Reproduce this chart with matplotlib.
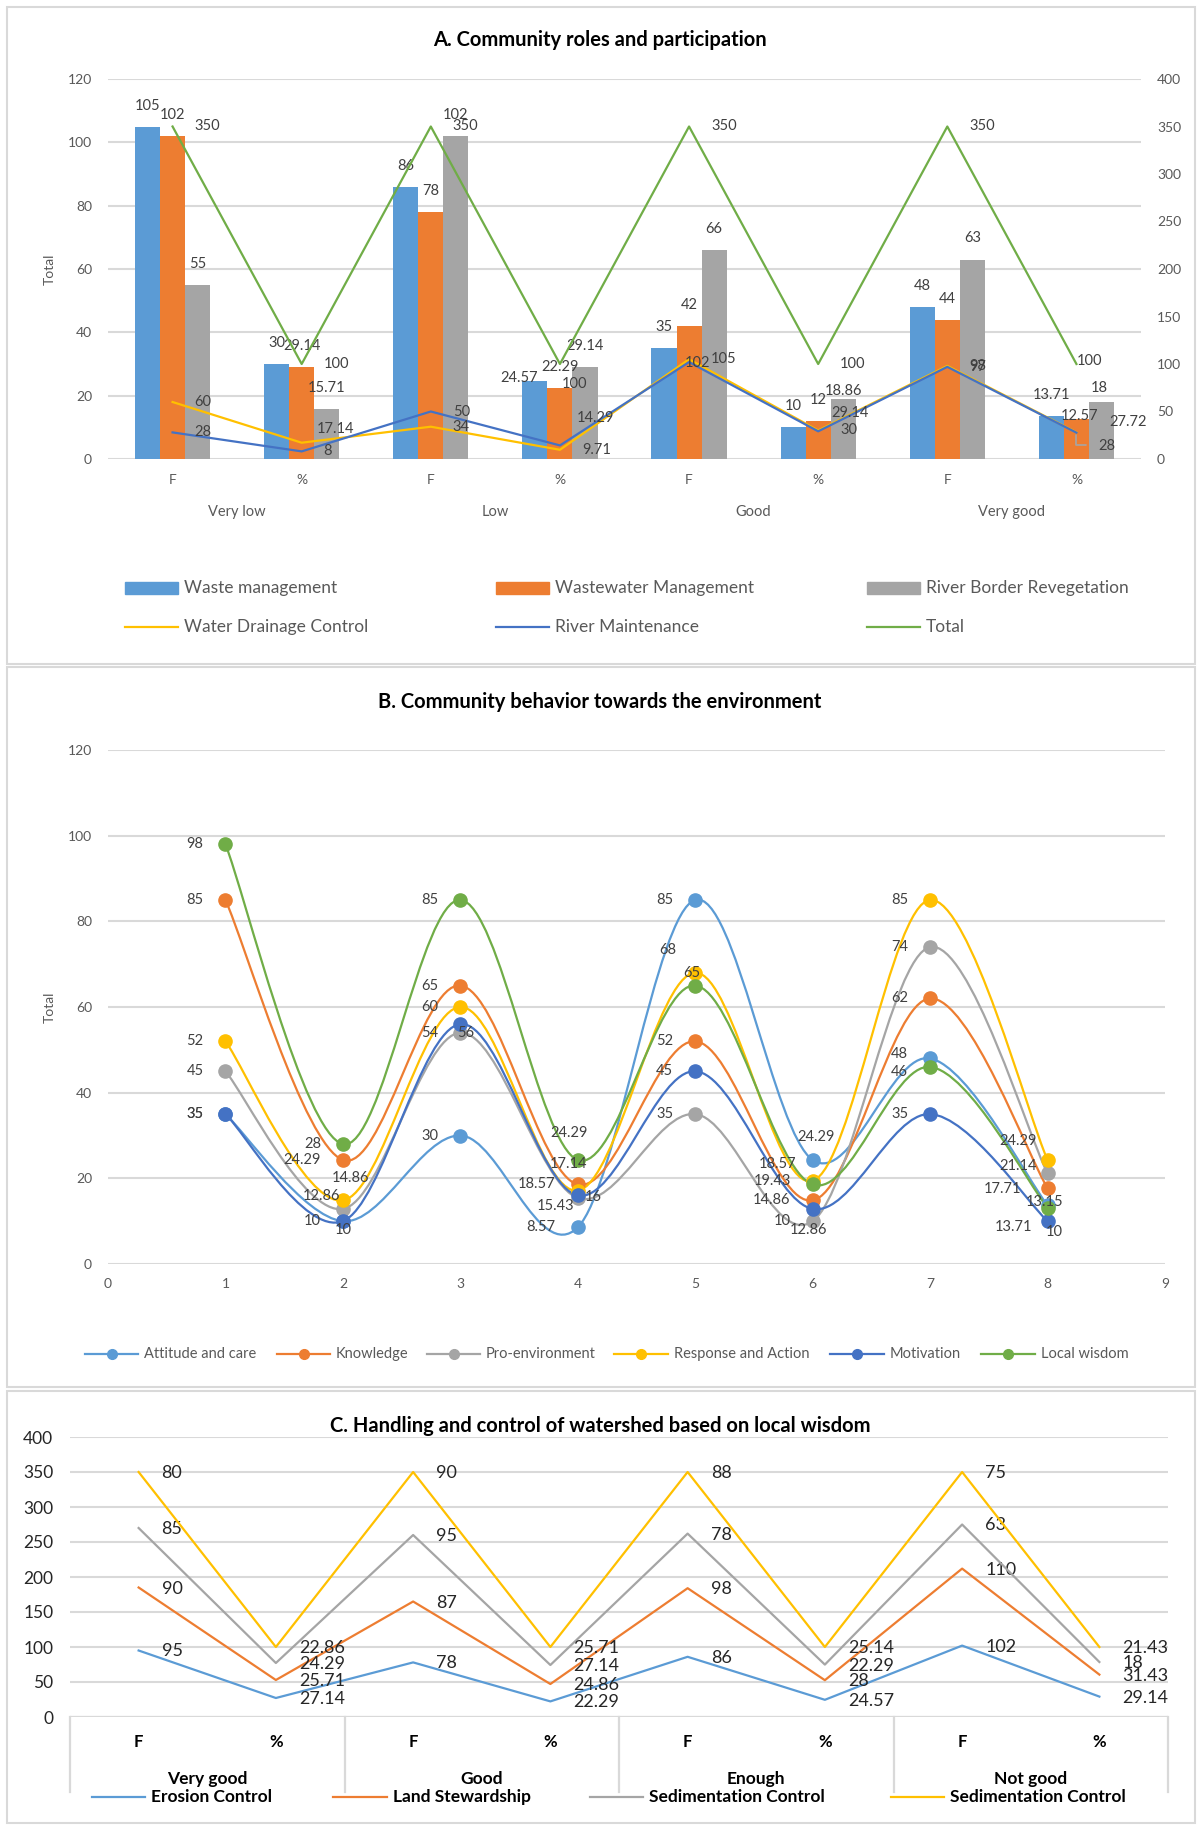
import numpy as np
import matplotlib.pyplot as plt
from matplotlib.path import Path
from matplotlib.patches import PathPatch, Rectangle
from matplotlib.lines import Line2D

plt.rcParams['font.family'] = ['Lato', 'DejaVu Sans']

# ---------------- data ----------------
# A. Community roles and participation
cats_a = ['F', '%', 'F', '%', 'F', '%', 'F', '%']
groups_a = ['Very low', 'Low', 'Good', 'Very good']
waste = [105, 30, 86, 24.57, 35, 10, 48, 13.71]
wastewater = [102, 29.14, 78, 22.29, 42, 12, 44, 12.57]
river_border = [55, 15.71, 102, 29.14, 66, 18.86, 63, 18]
drainage = [60, 17.14, 34, 9.71, 105, 30, 98, 28]
maintenance = [28, 8, 50, 14.29, 102, 29.14, 97, 27.72]
total_a = [350, 100, 350, 100, 350, 100, 350, 100]

# B. Community behavior towards the environment
x_b = [1, 2, 3, 4, 5, 6, 7, 8]
attitude = [35, 10, 30, 8.57, 85, 24.29, 48, 13.71]
knowledge = [85, 24.29, 65, 18.57, 52, 14.86, 62, 17.71]
pro_env = [45, 12.86, 54, 15.43, 35, 10, 74, 21.14]
response = [52, 14.86, 60, 17.14, 68, 19.43, 85, 24.29]
motivation = [35, 10, 56, 16, 45, 12.86, 35, 10]
local_wisdom = [98, 28, 85, 24.29, 65, 18.57, 46, 13.15]

# C. Handling and control of watershed based on local wisdom
cats_c = ['F', '%', 'F', '%', 'F', '%', 'F', '%']
groups_c = ['Very good', 'Good', 'Enough', 'Not good']
erosion = [95, 27.14, 78, 22.29, 86, 24.57, 102, 29.14]
land = [90, 25.71, 87, 24.86, 98, 28, 110, 31.43]
sediment1 = [85, 24.29, 95, 27.14, 78, 22.29, 63, 18]
sediment2 = [80, 22.86, 90, 25.71, 88, 25.14, 75, 21.43]

BLUE, ORANGE, GRAY, YELLOW = '#5B9BD5', '#ED7D31', '#A5A5A5', '#FFC000'
DBLUE, GREEN = '#4472C4', '#70AD47'
GRID = '#D9D9D9'
TICK = '#595959'
LAB = '#404040'

W, H = 1200, 1830
fig = plt.figure(figsize=(W / 100, H / 100), dpi=100)


def add_ax(x0, y0, x1, y1):
    return fig.add_axes([x0 / W, 1 - y1 / H, (x1 - x0) / W, (y1 - y0) / H])


def ftext(x, y, s, **kw):
    fig.text(x / W, 1 - y / H, s, **kw)


def fmt(v):
    return f'{v:g}'


def label(ax, x, y, s, dx, dy, ha='left', size=10, color=LAB, **kw):
    # dx, dy in screen pixels (dy positive = down)
    ax.annotate(s, (x, y), xytext=(dx, -dy), textcoords='offset pixels',
                ha=ha, va='center', fontsize=size, color=color, **kw)


def legend_item(x0, x1, y, color, text, kind='line', marker=None, size=10,
                weight='normal', tcolor=TICK):
    if kind == 'patch':
        fig.add_artist(Rectangle((x0 / W, 1 - (y + 6) / H), (x1 - x0) / W, 12 / H,
                                 transform=fig.transFigure, color=color))
    else:
        fig.add_artist(Line2D([x0 / W, x1 / W], [1 - y / H, 1 - y / H],
                              transform=fig.transFigure, color=color, lw=1.6))
        if marker:
            fig.add_artist(Line2D([(x0 + x1) / 2 / W], [1 - y / H], transform=fig.transFigure,
                                  marker='o', ms=7, color=color))
    ftext(x1 + 6, y, text, ha='left', va='center', fontsize=size,
          fontweight=weight, color=tcolor)


def smooth_path(xs, ys):
    pts = np.column_stack([xs, ys]).astype(float)
    n = len(pts)
    verts = [pts[0]]
    codes = [Path.MOVETO]
    for i in range(n - 1):
        p0 = pts[max(i - 1, 0)]
        p1 = pts[i]
        p2 = pts[i + 1]
        p3 = pts[min(i + 2, n - 1)]
        verts += [p1 + (p2 - p0) / 6, p2 - (p3 - p1) / 6, p2]
        codes += [Path.CURVE4] * 3
    return Path(verts, codes)


def style_axes(ax):
    for s in ax.spines.values():
        s.set_visible(False)
    ax.grid(axis='y', color=GRID, lw=1.5)
    ax.set_axisbelow(True)


# panel borders
for (x0, y0, x1, y1) in [(7, 7, 1195, 664), (7, 667, 1195, 1387), (7, 1391, 1195, 1823)]:
    fig.add_artist(Rectangle((x0 / W, 1 - y1 / H), (x1 - x0) / W, (y1 - y0) / H,
                             transform=fig.transFigure, fill=False, ec=GRID, lw=1.5))

# ================= Panel A =================
axA = add_ax(108, 79, 1141, 459)
style_axes(axA)
xa = np.arange(len(cats_a))
bw = 0.194
bar_series = [(waste, BLUE), (wastewater, ORANGE), (river_border, GRAY)]
for k, (vals, c) in enumerate(bar_series):
    axA.bar(xa + (k - 1) * bw, vals, width=bw, color=c, zorder=2)
axA.set_xlim(-0.5, 7.5)
axA.set_ylim(0, 120)
axA.set_yticks(range(0, 121, 20))
axA.set_xticks(xa)
axA.set_xticklabels(cats_a)
axA.tick_params(length=0, labelsize=10, labelcolor=TICK, pad=11)
axA.tick_params(axis='y', pad=11.5)
for i, g in enumerate(groups_a):
    axA.annotate(g, (2 * i + 0.5, 0), xycoords=('data', 'axes fraction'),
                 xytext=(0, -53), textcoords='offset pixels', ha='center', va='center',
                 fontsize=10.5, color=TICK)
ftext(50, 269, 'Total', rotation=90, ha='center', va='center', fontsize=10, color=TICK)

# bar labels: default 21 px above bar top
bar_off = {(0, 3): (-16, -3), (2, 5): (0, -8), (1, 7): (3, -3), (2, 7): (-2, -14)}
for k, (vals, c) in enumerate(bar_series):
    for i, v in enumerate(vals):
        dx, dy = bar_off.get((k, i), (0, -21))
        label(axA, xa[i] + (k - 1) * bw, v, fmt(v), dx, dy, ha='center', size=10.5)

axA2 = axA.twinx()
for s in axA2.spines.values():
    s.set_visible(False)
axA2.set_ylim(0, 400)
axA2.set_yticks(range(0, 401, 50))
axA2.tick_params(length=0, labelsize=10, labelcolor=TICK, pad=11.5)
line_series = [(drainage, YELLOW), (maintenance, DBLUE), (total_a, GREEN)]
for vals, c in line_series:
    axA2.plot(xa, vals, color=c, lw=1.6, zorder=3)
line_off = {(0, 1): ('left', 15, -14), (1, 3): ('left', 17, -27),
            (1, 4): ('center', 8, 1), (0, 7): ('left', 22, 14),
            (1, 7): ('left', 33, -11), (2, 7): ('center', 13, -3),
            (2, 3): ('center', 15, 20), (1, 5): ('center', 32, -18)}
for k, (vals, c) in enumerate(line_series):
    for i, v in enumerate(vals):
        ha, dx, dy = line_off.get((k, i), ('left', 22, 0))
        label(axA2, xa[i], v, fmt(v), dx, dy, ha=ha, size=10.5)
# leader line for the moved label
axA2.annotate('', (xa[7], drainage[7]), xytext=(12, -13), textcoords='offset pixels',
              arrowprops=dict(arrowstyle='-', color=GRAY, lw=1.2,
                              connectionstyle='angle,angleA=0,angleB=90,rad=0'))

ftext(600, 40, 'A. Community roles and participation', ha='center', va='center',
      fontsize=14.5, fontweight='bold', color='black')

legend_item(125, 178, 588, BLUE, 'Waste management', kind='patch', size=12.5)
legend_item(496, 549, 588, ORANGE, 'Wastewater Management', kind='patch', size=12.5)
legend_item(867, 920, 588, GRAY, 'River Border Revegetation', kind='patch', size=12.5)
legend_item(125, 178, 627, YELLOW, 'Water Drainage Control', size=12.5)
legend_item(496, 549, 627, DBLUE, 'River Maintenance', size=12.5)
legend_item(867, 920, 627, GREEN, 'Total', size=12.5)

# ================= Panel B =================
axB = add_ax(108, 750, 1165, 1264)
style_axes(axB)
axB.set_xlim(0, 9)
axB.set_ylim(0, 120)
axB.set_xticks(range(0, 10))
axB.set_yticks(range(0, 121, 20))
axB.tick_params(length=0, labelsize=10, labelcolor=TICK, pad=10)
axB.tick_params(axis='y', pad=11.5)
ftext(50, 1007, 'Total', rotation=90, ha='center', va='center', fontsize=10, color=TICK)
ftext(600, 702, 'B. Community behavior towards the environment', ha='center',
      va='center', fontsize=14.5, fontweight='bold', color='black')

b_series = [(attitude, BLUE, 'Attitude and care'), (knowledge, ORANGE, 'Knowledge'),
            (pro_env, GRAY, 'Pro-environment'), (response, YELLOW, 'Response and Action'),
            (motivation, DBLUE, 'Motivation'), (local_wisdom, GREEN, 'Local wisdom')]
for vals, c, name in b_series:
    axB.add_patch(PathPatch(smooth_path(x_b, vals), fc='none', ec=c, lw=1.6, zorder=2))
    axB.plot(x_b, vals, 'o', color=c, ms=9.5, zorder=3)

b_off = {(3, 1): ('center', 8, -22), (2, 1): ('center', -21, -13), (0, 1): ('center', 0, 9),
         (4, 2): ('center', 5, 9), (5, 3): ('center', -9, -27), (3, 3): ('center', -9, -27),
         (4, 3): ('left', 7, 2), (2, 3): ('center', -22, 8), (3, 4): ('center', -27, -23),
         (5, 4): ('center', -3, -13), (0, 5): ('center', 3, -23), (5, 5): ('right', -16, -20),
         (4, 5): ('center', -4, 21), (3, 7): ('right', -11, -19), (2, 7): ('right', -11, -7),
         (5, 7): ('center', -3, -6), (0, 7): ('right', -15, 22), (4, 7): ('center', 7, 11),
         (1, 7): ('right', -26, 1), (0, 6): ('right', -22, -4), (5, 6): ('right', -22, 5)}
for k, (vals, c, name) in enumerate(b_series):
    for i, v in enumerate(vals):
        ha, dx, dy = b_off.get((k, i), ('right', -22, 0))
        label(axB, x_b[i], v, fmt(v), dx, dy, ha=ha, size=10.5, zorder=4)

b_leg = [(85, 138), (277, 330), (427, 480), (614, 668), (830, 884), (981, 1035)]
for (x0, x1), (vals, c, name) in zip(b_leg, b_series):
    legend_item(x0, x1, 1354, c, name, marker=True, size=10.5)

# ================= Panel C =================
axC = add_ax(70, 1437, 1168, 1717)
style_axes(axC)
xc = np.arange(len(cats_c))
c_series = [(erosion, BLUE, 'Erosion Control'), (land, ORANGE, 'Land Stewardship'),
            (sediment1, GRAY, 'Sedimentation Control'), (sediment2, YELLOW, 'Sedimentation Control')]
stack = np.cumsum([s[0] for s in c_series], axis=0)
for k, (vals, c, name) in enumerate(c_series):
    axC.plot(xc, stack[k], color=c, lw=1.6, zorder=3)
    for i, v in enumerate(vals):
        label(axC, xc[i], stack[k][i], fmt(v), 23, 1, ha='left', size=13, color='#262626')
axC.set_xlim(-0.5, 7.5)
axC.set_ylim(0, 400)
axC.set_yticks(range(0, 401, 50))
axC.set_xticks(xc)
axC.set_xticklabels(cats_c, fontweight='bold')
axC.tick_params(axis='x', length=0, labelsize=12, labelcolor='black', pad=12)
axC.tick_params(axis='y', length=0, labelsize=12.5, labelcolor='#262626', pad=12)
axC.axhline(0, color=GRID, lw=1.6, zorder=1)
for xb in [-0.5, 1.5, 3.5, 5.5, 7.5]:
    axC.plot([xb, xb], [0, -0.268], transform=axC.get_xaxis_transform(), color=GRID,
             lw=1.6, clip_on=False)
for i, g in enumerate(groups_c):
    axC.annotate(g, (2 * i + 0.5, 0), xycoords=('data', 'axes fraction'),
                 xytext=(0, -62), textcoords='offset pixels', ha='center', va='center',
                 fontsize=12.5, fontweight='bold', color='black')
ftext(600, 1426, 'C. Handling and control of watershed based on local wisdom', ha='center',
      va='center', fontsize=14.5, fontweight='bold', color='black')

c_leg = [(92, 145), (333, 387), (590, 643), (891, 944)]
for (x0, x1), (vals, c, name) in zip(c_leg, c_series):
    legend_item(x0, x1, 1797, c, name, size=12.5, weight='bold', tcolor='black')

fig.savefig('out.png', dpi=100, facecolor='white')
